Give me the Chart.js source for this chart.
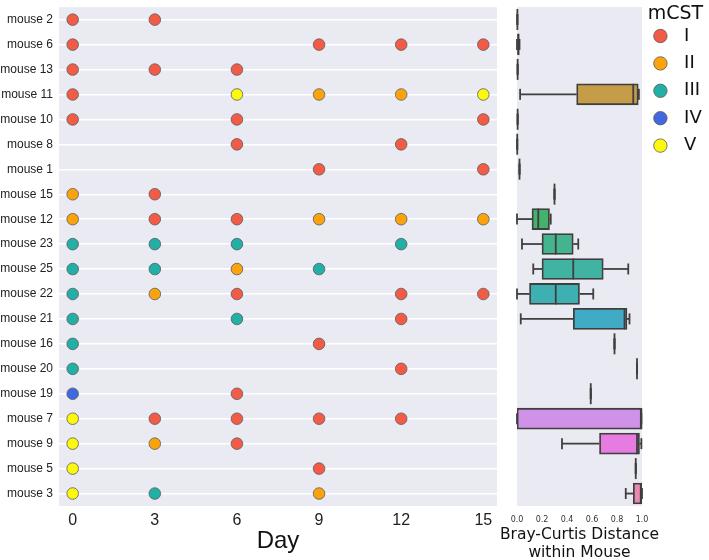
<!DOCTYPE html>
<html>
<head>
<meta charset="utf-8">
<script src="https://cdn.jsdelivr.net/npm/chart.js@4.4.0/dist/chart.umd.min.js"></script>
<style>
  body { margin: 0; background: #fff; }
  #wrap { position: relative; width: 709px; height: 560px; }
  canvas { position: absolute; top: 0; }
  #strip { left: 0; }
  #box { left: 490px; }
</style>
</head>
<body>
<div id="wrap">
  <canvas id="strip" width="501" height="560"></canvas>
  <canvas id="box" width="219" height="560"></canvas>
</div>
<script>
// rows, top to bottom
const mice = ['mouse 2', 'mouse 6', 'mouse 13', 'mouse 11', 'mouse 10', 'mouse 8', 'mouse 1',
  'mouse 15', 'mouse 12', 'mouse 23', 'mouse 25', 'mouse 22', 'mouse 21', 'mouse 16',
  'mouse 20', 'mouse 19', 'mouse 7', 'mouse 9', 'mouse 5', 'mouse 3'];
const days = [0, 3, 6, 9, 12, 15];
const cstNames = ['I', 'II', 'III', 'IV', 'V'];
const cstColors = ['#f25c47', '#fba30c', '#22afa6', '#4168e0', '#fcf80e'];

// mCST of each mouse on each day ('' = no sample)
const mcst = [
  ['I', 'I', '', '', '', ''],
  ['I', '', '', 'I', 'I', 'I'],
  ['I', 'I', 'I', '', '', ''],
  ['I', '', 'V', 'II', 'II', 'V'],
  ['I', '', 'I', '', '', 'I'],
  ['', '', 'I', '', 'I', ''],
  ['', '', '', 'I', '', 'I'],
  ['II', 'I', '', '', '', ''],
  ['II', 'I', 'I', 'II', 'II', 'II'],
  ['III', 'III', 'III', '', 'III', ''],
  ['III', 'III', 'II', 'III', '', ''],
  ['III', 'II', 'I', '', 'I', 'I'],
  ['III', '', 'III', '', 'I', ''],
  ['III', '', '', 'I', '', ''],
  ['III', '', '', '', 'I', ''],
  ['IV', '', 'I', '', '', ''],
  ['V', 'I', 'I', 'I', 'I', ''],
  ['V', 'II', 'I', '', '', ''],
  ['V', '', '', 'I', '', ''],
  ['V', 'III', '', 'II', '', '']
];

// Bray-Curtis distance within mouse: box plot stats
const bcMin = [0.003, 0.0, 0.005, 0.025, 0.005, 0.002, 0.02, 0.30, 0.0, 0.04, 0.13, 0.0, 0.03, 0.78, 0.96, 0.59, 0.0, 0.36, 0.95, 0.87];
const bcQ1  = [0.003, 0.005, 0.005, 0.477, 0.005, 0.002, 0.02, 0.30, 0.12, 0.20, 0.20, 0.10, 0.45, 0.78, 0.96, 0.59, 0.0, 0.66, 0.95, 0.93];
const bcMed = [0.003, 0.01, 0.005, 0.93, 0.005, 0.002, 0.02, 0.30, 0.17, 0.31, 0.45, 0.31, 0.86, 0.78, 0.96, 0.59, 0.995, 0.96, 0.95, 0.99];
const bcQ3  = [0.003, 0.018, 0.005, 0.97, 0.005, 0.002, 0.02, 0.30, 0.26, 0.45, 0.69, 0.50, 0.88, 0.78, 0.96, 0.59, 0.995, 0.98, 0.95, 1.0];
const bcMax = [0.003, 0.02, 0.005, 0.975, 0.005, 0.002, 0.02, 0.30, 0.27, 0.49, 0.89, 0.61, 0.90, 0.78, 0.96, 0.59, 0.995, 0.995, 0.95, 1.0];
const bcTitle = ['Bray-Curtis Distance', 'within Mouse'];
const boxColors = ['#d9787e', '#d4805a', '#c68e45', '#c59c48', '#b0a545', '#9bab45', '#7bb148', '#4db35a',
  '#45b16c', '#43b48e', '#40b3a2', '#3fb0b2', '#41aac5', '#4aa3d5', '#6d9de0', '#9b94e6',
  '#d092e9', '#e67be2', '#e780c8', '#e889b4'];

const plotBg = {
  id: 'plotBg',
  beforeDraw(chart) {
    const a = chart.chartArea;
    chart.ctx.save();
    chart.ctx.fillStyle = '#eaeaf2';
    chart.ctx.fillRect(a.left, a.top, a.width, a.height);
    chart.ctx.restore();
  }
};

// whiskers, caps and medians of the box plot
const whiskers = {
  id: 'whiskers',
  afterDatasetsDraw(chart) {
    const ctx = chart.ctx, x = chart.scales.x, y = chart.scales.y;
    const seg = (x0, y0, x1, y1) => { ctx.beginPath(); ctx.moveTo(x0, y0); ctx.lineTo(x1, y1); ctx.stroke(); };
    ctx.save();
    ctx.strokeStyle = '#3f3f3f';
    ctx.lineWidth = 1.8;
    mice.forEach((m, i) => {
      const cy = y.getPixelForValue(i);
      const xMin = x.getPixelForValue(bcMin[i]), xMax = x.getPixelForValue(bcMax[i]);
      seg(xMin, cy, x.getPixelForValue(bcQ1[i]), cy);
      seg(x.getPixelForValue(bcQ3[i]), cy, xMax, cy);
      seg(xMin, cy - 5.5, xMin, cy + 5.5);
      seg(xMax, cy - 5.5, xMax, cy + 5.5);
      const xMed = x.getPixelForValue(bcMed[i]);
      seg(xMed, cy - 10.5, xMed, cy + 10.5);
    });
    ctx.restore();
  }
};

// x title of the narrow box panel, drawn wider than its axis
const boxTitle = {
  id: 'boxTitle',
  afterDraw(chart) {
    const ctx = chart.ctx, a = chart.chartArea;
    ctx.save();
    ctx.font = '15.5px "DejaVu Sans"';
    ctx.fillStyle = '#111';
    ctx.textAlign = 'center';
    ctx.textBaseline = 'middle';
    bcTitle.forEach((t, i) => ctx.fillText(t, (a.left + a.right) / 2, 535 + i * 18));
    ctx.restore();
  }
};

const stripSets = cstNames.map((c, k) => {
  const pts = [];
  mcst.forEach((row, m) => row.forEach((v, d) => {
    if (v === c) pts.push({ x: days[d], y: mice[m] });
  }));
  return {
    label: c,
    data: pts,
    backgroundColor: cstColors[k],
    borderColor: '#5a5a5a',
    borderWidth: 0.8,
    pointRadius: 5.8
  };
});

new Chart(document.getElementById('strip'), {
  type: 'scatter',
  data: { datasets: stripSets },
  options: {
    responsive: false,
    animation: false,
    layout: { autoPadding: false, padding: { top: 0, right: 4 } },
    plugins: { legend: { display: false }, tooltip: { enabled: false } },
    scales: {
      x: {
        type: 'linear', min: -0.5, max: 15.5,
        afterBuildTicks: s => { s.ticks = days.map(v => ({ value: v })); },
        afterFit: s => { s.height = 54; },
        grid: { display: false, drawTicks: false },
        border: { display: false },
        ticks: { font: { family: 'Liberation Sans', size: 16 }, color: '#222', padding: 5 },
        title: { display: true, text: 'Day', color: '#111',
          font: { family: 'Liberation Sans', size: 24 }, padding: { top: 0, bottom: 4 } }
      },
      y: {
        type: 'category', labels: mice, offset: true,
        afterFit: s => { s.width = 59; },
        grid: { color: '#ffffff', lineWidth: 1.4, offset: false, drawTicks: true,
          tickLength: 6, tickColor: 'rgba(0,0,0,0)' },
        border: { display: false },
        ticks: { font: { family: 'Liberation Sans', size: 12 }, color: '#222', padding: 0 }
      }
    }
  },
  plugins: [plotBg]
});

new Chart(document.getElementById('box'), {
  type: 'bar',
  data: {
    labels: mice,
    datasets: [{
      data: mice.map((m, i) => [bcQ1[i], bcQ3[i]]),
      backgroundColor: boxColors,
      borderColor: '#3f3f3f',
      borderWidth: 1.8,
      borderSkipped: false,
      barThickness: 21
    }]
  },
  options: {
    indexAxis: 'y',
    responsive: false,
    animation: false,
    layout: { padding: { top: 0, left: 27, right: 0 } },
    plugins: {
      tooltip: { enabled: false },
      legend: {
        position: 'right', align: 'start', maxWidth: 67,
        onClick: null,
        title: { display: true, text: 'mCST', position: 'center', color: '#111',
          font: { family: 'DejaVu Sans', size: 19, lineHeight: 1 }, padding: { top: 4.5, bottom: -5.9 } },
        labels: {
          usePointStyle: true, boxWidth: 18, boxHeight: 9.5, padding: 9.4, color: '#111',
          font: { family: 'DejaVu Sans', size: 18 },
          generateLabels: () => cstNames.map((c, k) => ({
            text: ' ' + c, fillStyle: cstColors[k], strokeStyle: '#5a5a5a', lineWidth: 0.8,
            pointStyle: 'circle', hidden: false, datasetIndex: 0
          }))
        }
      }
    },
    scales: {
      x: {
        type: 'linear', min: 0, max: 1,
        afterFit: s => { s.height = 54; },
        grid: { display: false, drawTicks: false },
        border: { display: false },
        ticks: { stepSize: 0.2, font: { family: 'DejaVu Sans', size: 8 }, color: '#333', padding: 9,
          callback: v => v.toFixed(1) }
      },
      // empty top band so the panel starts below the legend title
      xTop: {
        type: 'linear', position: 'top', min: 0, max: 1,
        afterFit: s => { s.height = 7; },
        grid: { display: false, drawTicks: false },
        border: { display: false },
        ticks: { display: false }
      },
      y: {
        type: 'category', offset: true, display: false,
        afterFit: s => { s.width = 0; }
      }
    }
  },
  plugins: [plotBg, whiskers, boxTitle]
});
</script>
</body>
</html>
